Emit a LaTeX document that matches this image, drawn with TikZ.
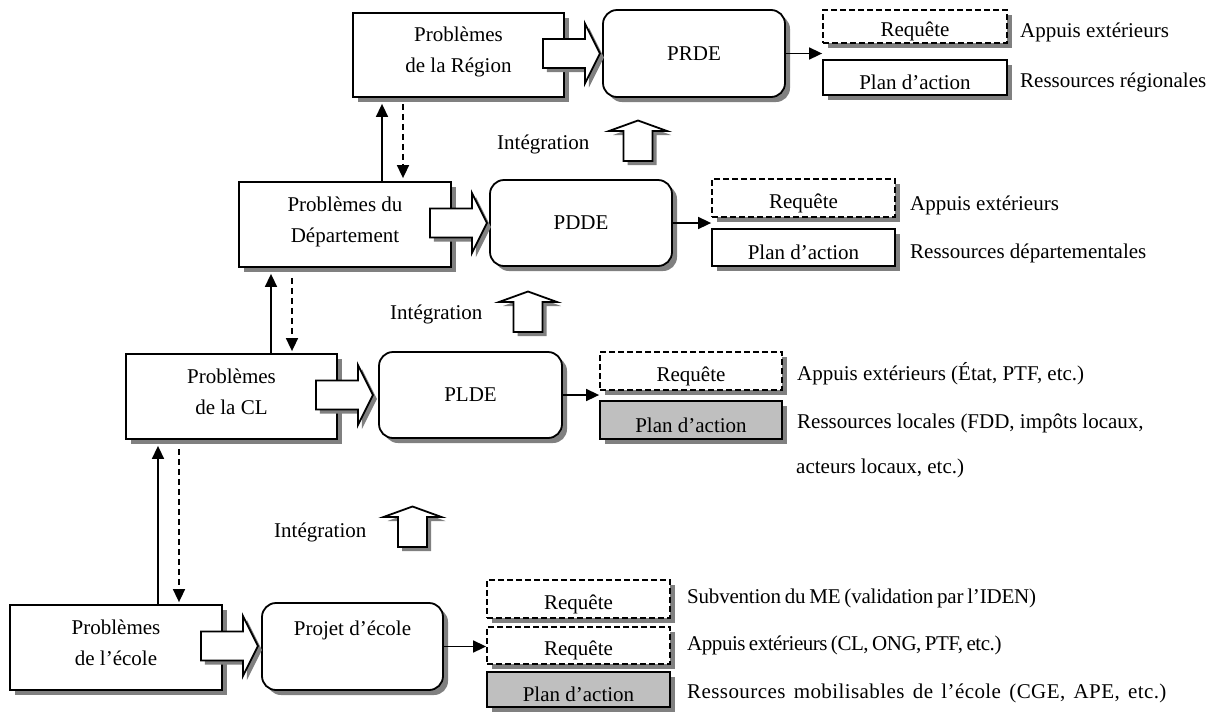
\documentclass[tikz,border=0pt]{standalone}
\usepackage{fontspec}
\setmainfont{Liberation Serif}
\usetikzlibrary{arrows.meta,shadows,calc}
\newcommand\rsp{\rule{0pt}{25pt}}
\newcommand\topl{\rule{0pt}{17pt}}
\newcommand\botl{\rule[-13pt]{0pt}{13pt}}
\newcommand\lsp[2]{\addfontfeature{LetterSpace=#1}\spaceskip=#2pt plus 1pt minus 1pt\relax}
\newcommand\blockright[1]{\path[blockarrow] ($(#1.east)+(-22,-16)$) -- ++(42,0) -- ++(0,-15.5) -- ++(15,30) -- ++(-15,30) -- ++(0,-15.5) -- ++(-42,0) -- cycle;}
\newcommand\blockup[2]{\path[blockarrow] (#1-14.5,#2) -- ++(0,-30) -- ++(-14.5,0) -- ++(29,-10.5) -- ++(29,10.5) -- ++(-14.5,0) -- ++(0,30) -- cycle;}
\begin{document}
\begin{tikzpicture}[x=1pt,y=-1pt,
  every node/.style={font=\fontsize{21}{31}\selectfont, inner sep=0pt},
  wh/.style 2 args={minimum width=#1pt, minimum height=#2pt},
  shad/.style={drop shadow={shadow xshift=5pt,shadow yshift=-5pt,opacity=1,fill=black!50}},
  probbox/.style={draw, line width=1.8pt, fill=white, shad, align=center},
  planbox/.style={probbox, rounded corners=14pt},
  reqbox/.style={draw, line width=1.8pt, fill=white, shad, dash pattern=on 6pt off 3pt},
  actbox/.style={draw, line width=1.8pt, shad},
  blockarrow/.style={draw, line width=1.8pt, fill=white, line join=miter,
    drop shadow={shadow xshift=4pt,shadow yshift=-4pt,opacity=1,fill=black!50}},
  conn/.style={line width=1.6pt, -{Triangle[length=13pt,width=12pt]}},
  dconn/.style={conn, dash pattern=on 6pt off 4pt},
  side/.style={anchor=base west}]
\useasboundingbox (0,0) rectangle (1218,713);

% Region level
\node[probbox, wh={211}{84}] (reg) at (458.5,55) {\topl Problèmes\\de la Région\botl};
\node[planbox, wh={182}{87}] (prde) at (694,53.5) {PRDE};
\node[reqbox, wh={184}{33}] (reqR) at (915,26.5) {\rsp Requête};
\node[actbox, fill=white, wh={184}{35}] (planR) at (915,77.5) {\rsp Plan d’action};
\node[side] (tR1) at (1020,37) {Appuis extérieurs};
\node[side] (tR2) at (1020,87) {Ressources régionales};

% Departement level
\node[probbox, wh={212}{85}] (dep) at (345,224.5) {\topl Problèmes du\\Département\botl};
\node[planbox, wh={182}{86}] (pdde) at (581,223) {PDDE};
\node[reqbox, wh={183}{38}] (reqD) at (803.5,198) {\rsp Requête};
\node[actbox, fill=white, wh={183}{37}] (planD) at (803.5,247.5) {\rsp Plan d’action};
\node[side] (tD1) at (910,210) {Appuis extérieurs};
\node[side] (tD2) at (910,258) {Ressources départementales};

% CL level
\node[probbox, wh={211}{85}] (cl) at (231.5,396.5) {\topl Problèmes\\de la CL\botl};
\node[planbox, wh={183}{86}] (plde) at (470.5,395) {PLDE};
\node[reqbox, wh={182}{38}] (reqL) at (691,371) {\rsp Requête};
\node[actbox, fill=black!25, wh={182}{38}] (planL) at (691,420) {\rsp Plan d’action};
\node[side] (tL1) at (797,380) {Appuis extérieurs (État, PTF, etc.)};
\node[side] (tL2) at (797,428) {Ressources locales (FDD, impôts locaux,};
\node[side] (tL3) at (796,473) {acteurs locaux, etc.)};

% Ecole level
\node[probbox, wh={212}{85}] (ecole) at (116,647.5) {\topl Problèmes\\de l’école\botl};
\node[planbox, wh={181}{87}] (projet) at (352.5,646.5) {Projet d’école\rule[-36pt]{0pt}{36pt}};
\node[reqbox, wh={183}{38}] (reqE1) at (578.5,599) {\rsp Requête};
\node[reqbox, wh={183}{37}] (reqE2) at (578.5,645.5) {\rsp Requête};
\node[actbox, fill=black!25, wh={183}{35}] (planE) at (578.5,689.5) {\rsp Plan d’action};
\node[side] (tE1) at (687,603) {\lsp{-1}{3.8}Subvention du ME (validation par l’IDEN)};
\node[side] (tE2) at (687,650) {\lsp{-2.2}{3.4}Appuis extérieurs (CL, ONG, PTF, etc.)};
\node[side] (tE3) at (687,698) {\lsp{2}{8.3}Ressources mobilisables de l’école (CGE, APE, etc.)};

% Integration labels
\node[side] (int1) at (497,149) {Intégration};
\node[side] (int2) at (390,319) {Intégration};
\node[side] (int3) at (274,537) {Intégration};

% block arrows
\blockright{reg}
\blockright{dep}
\blockright{cl}
\blockright{ecole}
\blockup{638}{161}
\blockup{528}{332}
\blockup{412.5}{547}

% connectors
\draw[conn] (prde.east) -- (prde.east -| reqR.west);
\draw[conn] (pdde.east) -- (pdde.east -| reqD.west);
\draw[conn] (plde.east) -- (plde.east -| reqL.west);
\draw[conn] (projet.east) -- (projet.east -| reqE2.west);

\coordinate (s1) at (382,0);
\coordinate (d1) at (403,0);
\coordinate (s2) at (271,0);
\coordinate (d2) at (292,0);
\coordinate (s3) at (158,0);
\coordinate (d3) at (179,0);
\draw[conn, shorten >=6pt] (dep.north -| s1) -- (reg.south -| s1);
\draw[dconn, shorten <=6pt, shorten >=3pt] (reg.south -| d1) -- (dep.north -| d1);
\draw[conn, shorten >=6pt] (cl.north -| s2) -- (dep.south -| s2);
\draw[dconn, shorten <=10pt, shorten >=2pt] (dep.south -| d2) -- (cl.north -| d2);
\draw[conn, shorten >=6pt] (ecole.north -| s3) -- (cl.south -| s3);
\draw[dconn, shorten <=9pt, shorten >=2pt] (cl.south -| d3) -- (ecole.north -| d3);
\end{tikzpicture}
\end{document}
